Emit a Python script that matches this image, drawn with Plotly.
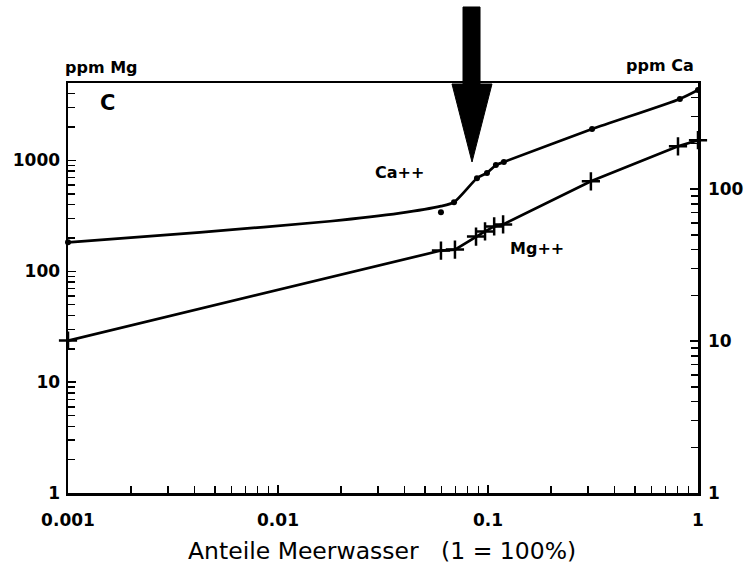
import plotly.graph_objects as go
import numpy as np

# ---- data ----
# Ca++ (right axis, ppm Ca) measured points
ca_frac = [0.001, 0.0597, 0.0689, 0.0886, 0.0989, 0.109, 0.119, 0.313, 0.82, 1.0]
ca_ppm = [44.7, 70.5, 82, 118, 128, 144, 151, 249, 393, 450]
# Ca++ drawn curve
ca_line_frac = [0.001, 0.00425, 0.0177, 0.0381, 0.0597, 0.0689, 0.0886, 0.0989, 0.109, 0.119, 0.313, 0.82, 1.0]
ca_line_ppm = [44.7, 52, 61.5, 69.5, 77.3, 82, 118, 128, 144, 151, 249, 393, 450]
# Mg++ (left axis, ppm Mg)
mg_frac = [0.001, 0.0597, 0.0696, 0.0877, 0.0968, 0.107, 0.118, 0.309, 0.803, 1.0]
mg_ppm = [23.7, 154, 157, 206, 229, 254, 265, 649, 1343, 1523]

x_ticks = [0.001, 0.01, 0.1, 1]
x_ticktext = ["0.001", "0.01", "0.1", "1"]
mg_ticks = [1, 10, 100, 1000]
ca_ticks = [1, 10, 100]

def minor_vals(lo_exp, hi_exp):
    return [m * 10.0 ** e for e in range(lo_exp, hi_exp) for m in range(2, 10)]

FONT = "DejaVu Sans"

fig = go.Figure()
fig.add_trace(go.Scatter(x=mg_frac, y=mg_ppm, mode="lines+markers", yaxis="y",
                         line=dict(color="black", width=2.7),
                         marker=dict(symbol="cross-thin", size=13, line=dict(color="black", width=2.5)),
                         cliponaxis=False, showlegend=False))
fig.add_trace(go.Scatter(x=ca_line_frac, y=ca_line_ppm, mode="lines", yaxis="y2",
                         line=dict(color="black", width=2.7, shape="spline", smoothing=0.6),
                         cliponaxis=False, showlegend=False))
fig.add_trace(go.Scatter(x=ca_frac, y=ca_ppm, mode="markers", yaxis="y2",
                         marker=dict(symbol="circle", size=6, color="black"),
                         cliponaxis=False, showlegend=False))

W, H = 747, 567
L, R, T, B = 68, 698, 83, 493

def px(xp):
    return (xp - L) / (R - L)

def py(yp):
    return (B - yp) / (B - T)

# arrow (page pixel outline)
arrow = [(463, 7), (480, 7), (480, 84), (492, 84), (472, 162), (452, 84), (463, 84)]
path = "M " + " L ".join(f"{px(a):.4f},{py(b):.4f}" for a, b in arrow) + " Z"

def label(text, xp, yp, size, bold=False):
    return dict(text=f"<b>{text}</b>" if bold else text, x=px(xp), y=py(yp),
                xref="paper", yref="paper", showarrow=False,
                xanchor="center", yanchor="middle",
                font=dict(size=size, family=FONT, color="black"))

tickfont = dict(size=17, family=FONT, weight="bold", color="black")

common = dict(ticks="inside", ticklen=8, tickwidth=1.5, tickcolor="black",
              showline=True, linecolor="black", linewidth=2.5,
              showgrid=False, zeroline=False, automargin=False, tickfont=tickfont)

fig.update_layout(
    template="none",
    width=W, height=H,
    margin=dict(l=L, r=W - R, t=T, b=H - B, pad=0),
    paper_bgcolor="white", plot_bgcolor="white",
    font=dict(family=FONT, color="black"),
    hovermode=False,
    xaxis=dict(type="log", range=[-3, 0], tickmode="array", tickvals=x_ticks, ticktext=x_ticktext,
               minor=dict(ticks="inside", ticklen=7, tickwidth=1.5, tickcolor="black",
                          tickvals=minor_vals(-3, 0), showgrid=False),
               mirror=True, ticklabelstandoff=10, **common),
    yaxis=dict(type="log", range=[0, np.log10(5000)], tickmode="array", tickvals=mg_ticks,
               ticktext=[str(v) for v in mg_ticks],
               minor=dict(ticks="inside", ticklen=7, tickwidth=1.5, tickcolor="black",
                          tickvals=minor_vals(0, 4)[:-5], showgrid=False),
               ticklabelstandoff=2, **common),
    yaxis2=dict(type="log", range=[0, np.log10(500)], overlaying="y", side="right",
                tickmode="array", tickvals=ca_ticks, ticktext=[str(v) for v in ca_ticks],
                minor=dict(ticks="inside", ticklen=7, tickwidth=1.5, tickcolor="black",
                           tickvals=minor_vals(0, 3)[:-5], showgrid=False),
                ticklabelstandoff=4, **common),
    shapes=[dict(type="path", path=path, xref="paper", yref="paper",
                 fillcolor="black", line=dict(color="black", width=1), layer="above")],
    annotations=[
        label("ppm Mg", 101, 68, 16, bold=True),
        label("ppm Ca", 660, 66, 16, bold=True),
        label("C", 107, 103, 21, bold=True),
        label("Ca++", 399, 172, 16, bold=True),
        label("Mg++", 537, 248, 16, bold=True),
        label("Anteile Meerwasser   (1 = 100%)", 382, 551, 23.5),
    ],
)

fig.write_html("out.html",
               config={"displayModeBar": False, "staticPlot": True},
               post_script="document.body.style.margin='0';document.body.style.overflow='hidden';")
